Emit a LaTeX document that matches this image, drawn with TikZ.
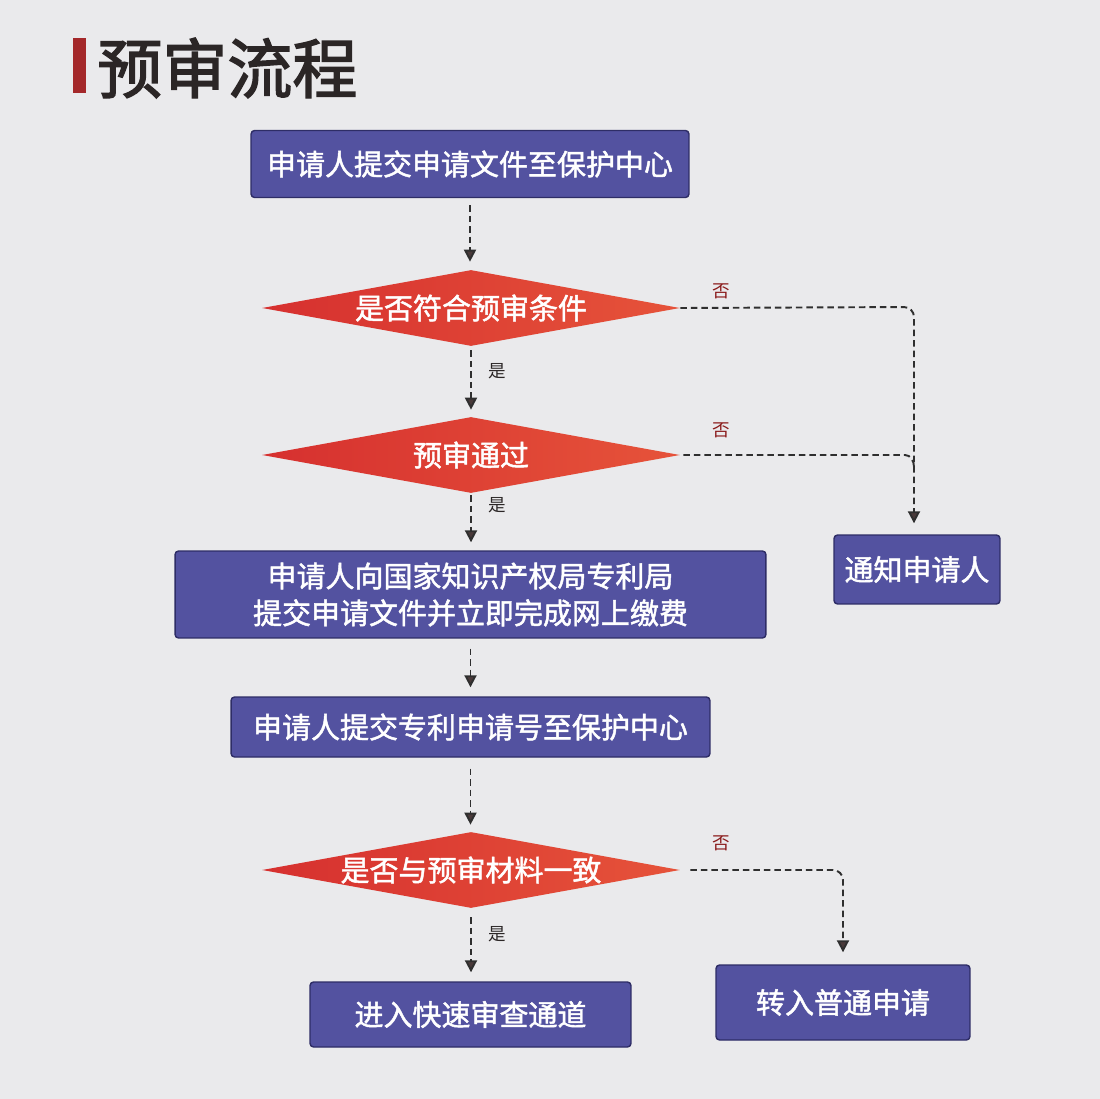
\documentclass[tikz,border=0pt]{standalone}
\usepackage{fontspec}
\setmainfont{Noto Sans CJK SC}
\newfontfamily\medfont{Noto Sans CJK SC}[FakeBold=1.6]
\newfontfamily\titlefont{Noto Sans CJK SC}[FakeBold=2.2]
\usetikzlibrary{shapes.geometric,arrows.meta}
\definecolor{bg}{HTML}{EAEAEC}
\definecolor{boxfill}{HTML}{5352A0}
\definecolor{boxline}{HTML}{2E2D66}
\definecolor{dleft}{HTML}{D6302F}
\definecolor{dright}{HTML}{E6533A}
\definecolor{titlecol}{HTML}{2B2626}
\definecolor{barcol}{HTML}{A4282A}
\definecolor{nocol}{HTML}{8A1A1A}
\definecolor{linecol}{HTML}{2F2F2F}
\definecolor{tipcol}{HTML}{4A3A3A}
\tikzset{
  stepbox/.style={rectangle, rounded corners=2pt, fill=boxfill, draw=boxline, line width=0.8pt,
    text=white, font=\fontsize{16.5}{22}\medfont, align=center, inner sep=0pt},
  decide/.style={diamond, aspect=1, inner sep=0pt, minimum width=8.36cm, minimum height=1.52cm,
    left color=dleft, right color=dright, text=white, font=\fontsize{16.5}{22}\medfont},
  flow/.style={dashed, dash pattern=on 0.13cm off 0.08cm, line width=1.1pt, draw=linecol,
    -{Triangle[length=0.24cm,width=0.24cm,fill=tipcol]}},
  plain/.style={dashed, dash pattern=on 0.13cm off 0.08cm, line width=1.1pt, draw=linecol},
  nolab/.style={text=nocol, font=\fontsize{10}{12}\selectfont},
  yeslab/.style={text=titlecol, font=\fontsize{10}{12}\selectfont},
}
\begin{document}
\begin{tikzpicture}[x=0.02cm,y=-0.02cm]
\fill[bg] (0,0) rectangle (1100,1099);
\useasboundingbox (0,0) rectangle (1100,1099);
% title
\fill[barcol] (73,38) rectangle (86,93);
\node[anchor=west, text=titlecol, font=\fontsize{37}{40}\titlefont, inner sep=0pt] (title) at (97,68) {预审流程};
% nodes
\node[stepbox, minimum width=8.76cm, minimum height=1.34cm] (b1) at (470,164) {申请人提交申请文件至保护中心};
\node[decide] (d1) at (471,308) {\makebox[0pt]{是否符合预审条件}};
\node[decide] (d2) at (471,455) {\makebox[0pt]{预审通过}};
\node[stepbox, minimum width=11.82cm, minimum height=1.74cm] (b2) at (470.5,594.5) {申请人向国家知识产权局专利局\\[-1pt]提交申请文件并立即完成网上缴费};
\node[stepbox, minimum width=3.32cm, minimum height=1.38cm] (notify) at (917,569.5) {通知申请人};
\node[stepbox, minimum width=9.58cm, minimum height=1.2cm] (b3) at (470.5,727) {申请人提交专利申请号至保护中心};
\node[decide] (d3) at (471,870) {\makebox[0pt]{是否与预审材料一致}};
\node[stepbox, minimum width=6.42cm, minimum height=1.3cm] (b4) at (470.5,1014.5) {进入快速审查通道};
\node[stepbox, minimum width=5.08cm, minimum height=1.5cm] (b5) at (843,1002.5) {转入普通申请};
% main flow
\draw[flow, shorten <=0.14cm, shorten >=0.16cm] (b1.south) -- (b1.south |- d1.north);
\draw[flow, shorten <=0.08cm, shorten >=0.14cm] (d1.south) -- (d2.north);
\draw[flow, shorten <=0.04cm, shorten >=0.16cm] (d2.south) -- (d2.south |- b2.north);
\draw[flow, shorten <=0.2cm, shorten >=0.18cm] (b2.south) -- (b2.south |- b3.north);
\draw[flow, shorten <=0.22cm, shorten >=0.14cm] (b3.south) -- (b3.south |- d3.north);
\draw[flow, shorten <=0.18cm, shorten >=0.18cm] (d3.south) -- (d3.south |- b4.north);
% no branches
\coordinate (m1) at (914,307);
\draw[flow, rounded corners=0.2cm, shorten >=0.22cm] (d1.east) -- (m1) -- (m1 |- notify.north);
\coordinate (m2) at (905,455);
\draw[plain] ([xshift=0.06cm]d2.east) -- (m2) to[out=0,in=90] (914,467);
\draw[flow, rounded corners=0.2cm, shorten <=0.2cm, shorten >=0.24cm] (d3.east) -| (b5.north);
% labels
\node[nolab] (n1) at (721,291) {否};
\node[nolab] (n2) at (721,430) {否};
\node[nolab] (n3) at (721,843) {否};
\node[yeslab] (y1) at (497,371) {是};
\node[yeslab] (y2) at (497,505) {是};
\node[yeslab] (y3) at (497,934) {是};
\end{tikzpicture}
\end{document}
